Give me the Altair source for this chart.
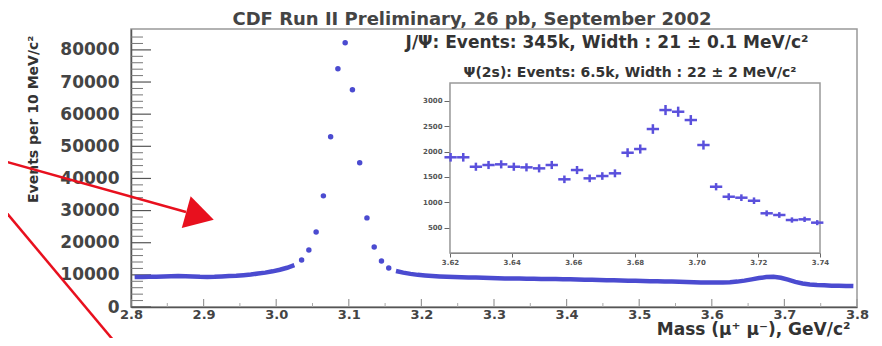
import altair as alt
import pandas as pd

FONT = "DejaVu Sans"

# ---------------- data ----------------
left_mass = [2.805, 2.815, 2.825, 2.835, 2.845, 2.855, 2.865, 2.875, 2.885, 2.895,
             2.905, 2.915, 2.925, 2.935, 2.945, 2.955, 2.965, 2.975, 2.985, 2.995,
             3.005, 3.015, 3.025]
left_counts = [9300, 9350, 9400, 9450, 9500, 9600, 9650, 9600, 9500, 9400,
               9350, 9400, 9500, 9650, 9750, 9900, 10100, 10400, 10700, 11100,
               11600, 12200, 13000]

peak_mass = [3.035, 3.045, 3.055, 3.065, 3.075, 3.085, 3.095, 3.105, 3.115, 3.125,
             3.135, 3.145, 3.155]
peak_counts = [14640, 17760, 23360, 34580, 52960, 74140, 82240, 67600, 44860, 27730,
               18690, 14330, 12150]

right_mass = [3.165, 3.175, 3.185, 3.195, 3.205, 3.215, 3.225, 3.235, 3.245, 3.255,
              3.265, 3.275, 3.285, 3.295, 3.305, 3.315, 3.325, 3.335, 3.345, 3.355,
              3.365, 3.375, 3.385, 3.395, 3.405, 3.415, 3.425, 3.435, 3.445, 3.455,
              3.465, 3.475, 3.485, 3.495, 3.505, 3.515, 3.525, 3.535, 3.545, 3.555,
              3.565, 3.575, 3.585, 3.595, 3.605, 3.615, 3.625, 3.635, 3.645, 3.655,
              3.665, 3.675, 3.685, 3.695, 3.705, 3.715, 3.725, 3.735, 3.745, 3.755,
              3.765, 3.775, 3.785, 3.795]
right_counts = [11200, 10700, 10300, 10000, 9800, 9650, 9500, 9400, 9300, 9250,
                9200, 9150, 9100, 9000, 8950, 8900, 8880, 8850, 8800, 8780,
                8750, 8700, 8680, 8650, 8600, 8550, 8500, 8450, 8400, 8350,
                8300, 8250, 8200, 8150, 8100, 8050, 8000, 7950, 7900, 7850,
                7800, 7700, 7650, 7600, 7600, 7650, 7700, 7900, 8200, 8600,
                9000, 9300, 9400, 9100, 8500, 7800, 7300, 7000, 6850, 6750,
                6650, 6600, 6550, 6500]

inset_mass = [3.6202, 3.6243, 3.6284, 3.6325, 3.6366, 3.6407, 3.6448, 3.6489, 3.6530, 3.6571,
              3.6612, 3.6653, 3.6694, 3.6735, 3.6776, 3.6817, 3.6858, 3.6899, 3.6940, 3.6981,
              3.7022, 3.7063, 3.7104, 3.7145, 3.7186, 3.7227, 3.7268, 3.7309, 3.7350, 3.7391]
inset_counts = [1886, 1886, 1700, 1734, 1747, 1700, 1688, 1668, 1734, 1452,
                1635, 1471, 1517, 1570, 1976, 2049, 2443, 2817, 2784, 2620,
                2128, 1306, 1109, 1090, 1030, 782, 749, 650, 663, 598]
inset_err = [85, 85, 80, 80, 80, 80, 80, 80, 80, 75,
             80, 75, 75, 78, 88, 90, 95, 100, 100, 98,
             90, 72, 68, 66, 65, 58, 56, 52, 52, 50]

x_ticks_main = [2.8, 2.9, 3.0, 3.1, 3.2, 3.3, 3.4, 3.5, 3.6, 3.7, 3.8]
x_minor_main = [2.85, 2.95, 3.05, 3.15, 3.25, 3.35, 3.45, 3.55, 3.65, 3.75]
y_ticks_main = [0, 10000, 20000, 30000, 40000, 50000, 60000, 70000, 80000]
y_minor_main = [v for v in range(2000, 86000, 2000) if v % 10000]
inset_x_ticks = [3.62, 3.64, 3.66, 3.68, 3.70, 3.72, 3.74]
inset_y_ticks = [500, 1000, 1500, 2000, 2500, 3000]

title_text = "CDF Run II Preliminary, 26 pb, September 2002"
jpsi_text = "J/Ψ: Events: 345k, Width : 21 ± 0.1 MeV/c²"
psi2s_text = "Ψ(2s): Events: 6.5k, Width : 22  ± 2 MeV/c²"
x_title = "Mass (μ⁺ μ⁻), GeV/c²"
y_title = "Events per 10 MeV/c²"

BLUE = "#4b4bd0"
RED = "#e8101e"

# ---------------- tables ----------------
line_df = pd.DataFrame({
    "mass": left_mass + right_mass,
    "count": left_counts + right_counts,
    "seg": ["left"] * len(left_mass) + ["right"] * len(right_mass),
})
peak_df = pd.DataFrame({"mass": peak_mass, "count": peak_counts})
inset_df = pd.DataFrame({"mass": inset_mass, "count": inset_counts, "err": inset_err})
ymaj_df = pd.DataFrame({"v": y_ticks_main})
ymin_df = pd.DataFrame({"v": y_minor_main})
xmaj_df = pd.DataFrame({"v": x_ticks_main})
xmin_df = pd.DataFrame({"v": x_minor_main})
one = pd.DataFrame({"k": [0]})

# ---------------- main scales / axes ----------------
xs = alt.Scale(domain=[2.8, 3.8], nice=False, zero=False)
ys = alt.Scale(domain=[0, 86500], nice=False)
xaxis = alt.Axis(values=x_ticks_main, format=".1f", labelFont=FONT, labelFontSize=13,
                 labelFontWeight="bold", labelColor="#444", labelPadding=1, labelFlush=False,
                 tickSize=0, domainColor="#555", domainWidth=1.5, grid=False,
                 title=x_title, titleFont=FONT, titleFontSize=17, titleFontWeight="bold",
                 titleColor="#333", titleX=719, titleY=27, titleAlign="right",
                 titleBaseline="alphabetic", titleAnchor="end")
yaxis = alt.Axis(values=y_ticks_main, format="d", labelFont=FONT, labelFontSize=17,
                 labelFontWeight="bold", labelColor="#444", labelPadding=12,
                 tickSize=0, domainColor="#555", domainWidth=1.5, grid=False,
                 title=y_title, titleFont=FONT, titleFontSize=14, titleFontWeight="bold",
                 titleColor="#333", titleAngle=-90, titleX=-98, titleY=6,
                 titleAlign="right", titleBaseline="middle")


def X(field):
    return alt.X(field, type="quantitative", scale=xs, axis=xaxis)


def Y(field):
    return alt.Y(field, type="quantitative", scale=ys, axis=yaxis)


ymaj = alt.Chart(ymaj_df).mark_rule(color="#555", strokeWidth=1.2).encode(
    y=Y("v"), x=alt.value(0), x2=alt.value(20))
ymin = alt.Chart(ymin_df).mark_rule(color="#777", strokeWidth=1).encode(
    y=Y("v"), x=alt.value(0), x2=alt.value(12))
xmaj = alt.Chart(xmaj_df).mark_rule(color="#999", strokeWidth=1.2).encode(
    x=X("v"), y=alt.value(278), y2=alt.value(270))
xmin = alt.Chart(xmin_df).mark_rule(color="#aaa", strokeWidth=1).encode(
    x=X("v"), y=alt.value(278), y2=alt.value(274))

line = alt.Chart(line_df).mark_line(color=BLUE, strokeWidth=4.5).encode(
    x=X("mass"), y=Y("count"), detail="seg:N")
points = alt.Chart(peak_df).mark_circle(color=BLUE, size=30, opacity=1).encode(
    x=X("mass"), y=Y("count"))

jpsi = alt.Chart(one).mark_text(text=jpsi_text, font=FONT, fontSize=17, fontWeight="bold",
                                color="#333", align="center", baseline="middle").encode(
    x=alt.value(476), y=alt.value(14))
psi2s = alt.Chart(one).mark_text(text=psi2s_text, font=FONT, fontSize=14, fontWeight="bold",
                                 color="#333", align="center", baseline="middle").encode(
    x=alt.value(499), y=alt.value(44))

arrow1 = alt.Chart(one).mark_rule(color=RED, strokeWidth=2.5).encode(
    x=alt.value(-131), y=alt.value(131), x2=alt.value(55), y2=alt.value(183))
arrow_head = alt.Chart(one).mark_point(shape="triangle-right", filled=True, size=1090,
                                       angle=15.6, color=RED, opacity=1).encode(
    x=alt.value(69), y=alt.value(187))
arrow2 = alt.Chart(one).mark_rule(color=RED, strokeWidth=2.5).encode(
    x=alt.value(-131), y=alt.value(176), x2=alt.value(-7), y2=alt.value(324))

main = alt.layer(xmin, xmaj, ymin, ymaj, line, points, jpsi, psi2s, arrow1, arrow_head, arrow2)

# ---------------- inset ----------------
ixs = alt.Scale(domain=[3.62, 3.74], range=[319, 689], nice=False, zero=False)
iys = alt.Scale(domain=[0, 3350], range=[224, 54], nice=False)
ixaxis = alt.Axis(orient="bottom", offset=-54, values=inset_x_ticks, format=".2f",
                  labelFont=FONT, labelFontSize=7, labelFontWeight="bold", labelColor="#555",
                  labelPadding=1, labelFlush=False, tickSize=4, tickColor="#666",
                  domainColor="#555", domainWidth=1.2, grid=False, title=None)
iyaxis = alt.Axis(orient="left", offset=-319, values=inset_y_ticks, format="d",
                  labelFont=FONT, labelFontSize=7, labelFontWeight="bold", labelColor="#555",
                  labelPadding=2, tickSize=6, tickColor="#666",
                  domainColor="#555", domainWidth=1.2, grid=False, title=None)

frame = alt.Chart(one).mark_rect(fill="white", stroke="#999", strokeWidth=1.5).encode(
    x=alt.XDatum(3.62, type="quantitative", scale=ixs, axis=ixaxis),
    x2=alt.X2Datum(3.74),
    y=alt.YDatum(0, type="quantitative", scale=iys, axis=iyaxis),
    y2=alt.Y2Datum(3350),
)
xerr = alt.Chart(inset_df).transform_calculate(
    xl="datum.mass - 0.002", xr="datum.mass + 0.002"
).mark_rule(color="#5a50dc", strokeWidth=2.5).encode(
    x=alt.X("xl:Q", scale=ixs, axis=ixaxis), x2="xr:Q",
    y=alt.Y("count:Q", scale=iys, axis=iyaxis))
yerr = alt.Chart(inset_df).transform_calculate(
    lo="datum.count - datum.err", hi="datum.count + datum.err"
).mark_rule(color="#5a50dc", strokeWidth=2.5).encode(
    x=alt.X("mass:Q", scale=ixs, axis=ixaxis),
    y=alt.Y("lo:Q", scale=iys, axis=iyaxis), y2="hi:Q")

inset = alt.layer(frame, xerr, yerr)

chart = alt.layer(main, inset).resolve_scale(x="independent", y="independent").properties(
    width=726, height=278,
    padding={"left": 123, "top": 21, "right": 15, "bottom": 31},
    autosize=alt.AutoSizeParams(type="none"),
    title=alt.TitleParams(title_text, font=FONT, fontSize=18, fontWeight="bold",
                          color="#444", anchor="middle", dx=-22, offset=0, frame="group"),
    background="white",
).configure_view(stroke="#999", strokeWidth=1.5)

chart.save("out.html", embed_options={"renderer": "svg", "actions": False})
